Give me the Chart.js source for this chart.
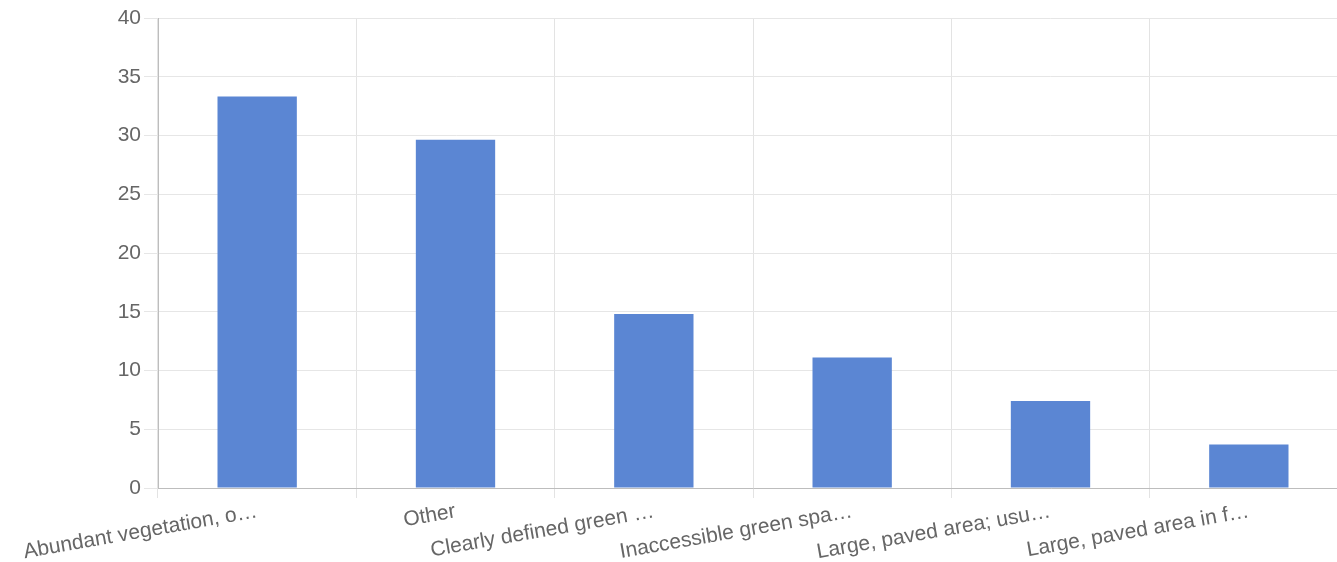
<!DOCTYPE html>
<html>
<head>
<meta charset="utf-8">
<script src="https://cdn.jsdelivr.net/npm/chart.js@4/dist/chart.umd.min.js"></script>
<style>
  html, body { margin: 0; padding: 0; background: #fff; overflow: hidden; }
  #wrap { position: relative; width: 1348px; height: 566px; }
</style>
</head>
<body>
<div id="wrap"><canvas id="myChart"></canvas></div>
<script>
// Kategorier (forkortede etiketter) og andel i prosent
const categories = [
  "Abundant vegetation, o…",
  "Other",
  "Clearly defined green …",
  "Inaccessible green spa…",
  "Large, paved area; usu…",
  "Large, paved area in f…"
];
const values = [33.33, 29.63, 14.81, 11.11, 7.41, 3.7];
const yTicks = [0, 5, 10, 15, 20, 25, 30, 35, 40];

const fontFamily = "'Liberation Sans', Arial, sans-serif";
const ctx = document.getElementById("myChart").getContext("2d");

const chart = new Chart(ctx, {
  type: "bar",
  data: {
    labels: categories,
    datasets: [{
      data: values,
      backgroundColor: "#5b86d3",
      barPercentage: 0.5,
      categoryPercentage: 0.8
    }]
  },
  options: {
    responsive: true,
    maintainAspectRatio: false,
    animation: false,
    layout: {
      padding: { top: 18, right: 0, bottom: 0, left: 0 }
    },
    plugins: {
      legend: { display: false },
      tooltip: { enabled: false }
    },
    scales: {
      x: {
        grid: { color: "#e3e3e3", tickLength: 10, offset: true },
        border: { color: "#bdbdbd" },
        ticks: {
          color: "#666",
          padding: 1,
          font: { family: fontFamily, size: 21 },
          minRotation: 10,
          maxRotation: 10,
          autoSkip: false
        }
      },
      y: {
        min: 0,
        max: 40,
        afterBuildTicks: (axis) => { axis.ticks = yTicks.map(v => ({ value: v })); },
        // fast bredde på y-aksen så plottet starter på samme sted
        afterFit: (axis) => { axis.width = 158; },
        grid: { color: "#e6e6e6", tickLength: 14 },
        border: { color: "#bdbdbd" },
        ticks: {
          color: "#666",
          padding: 3,
          font: { family: fontFamily, size: 21 }
        }
      }
    }
  }
});
</script>
</body>
</html>
